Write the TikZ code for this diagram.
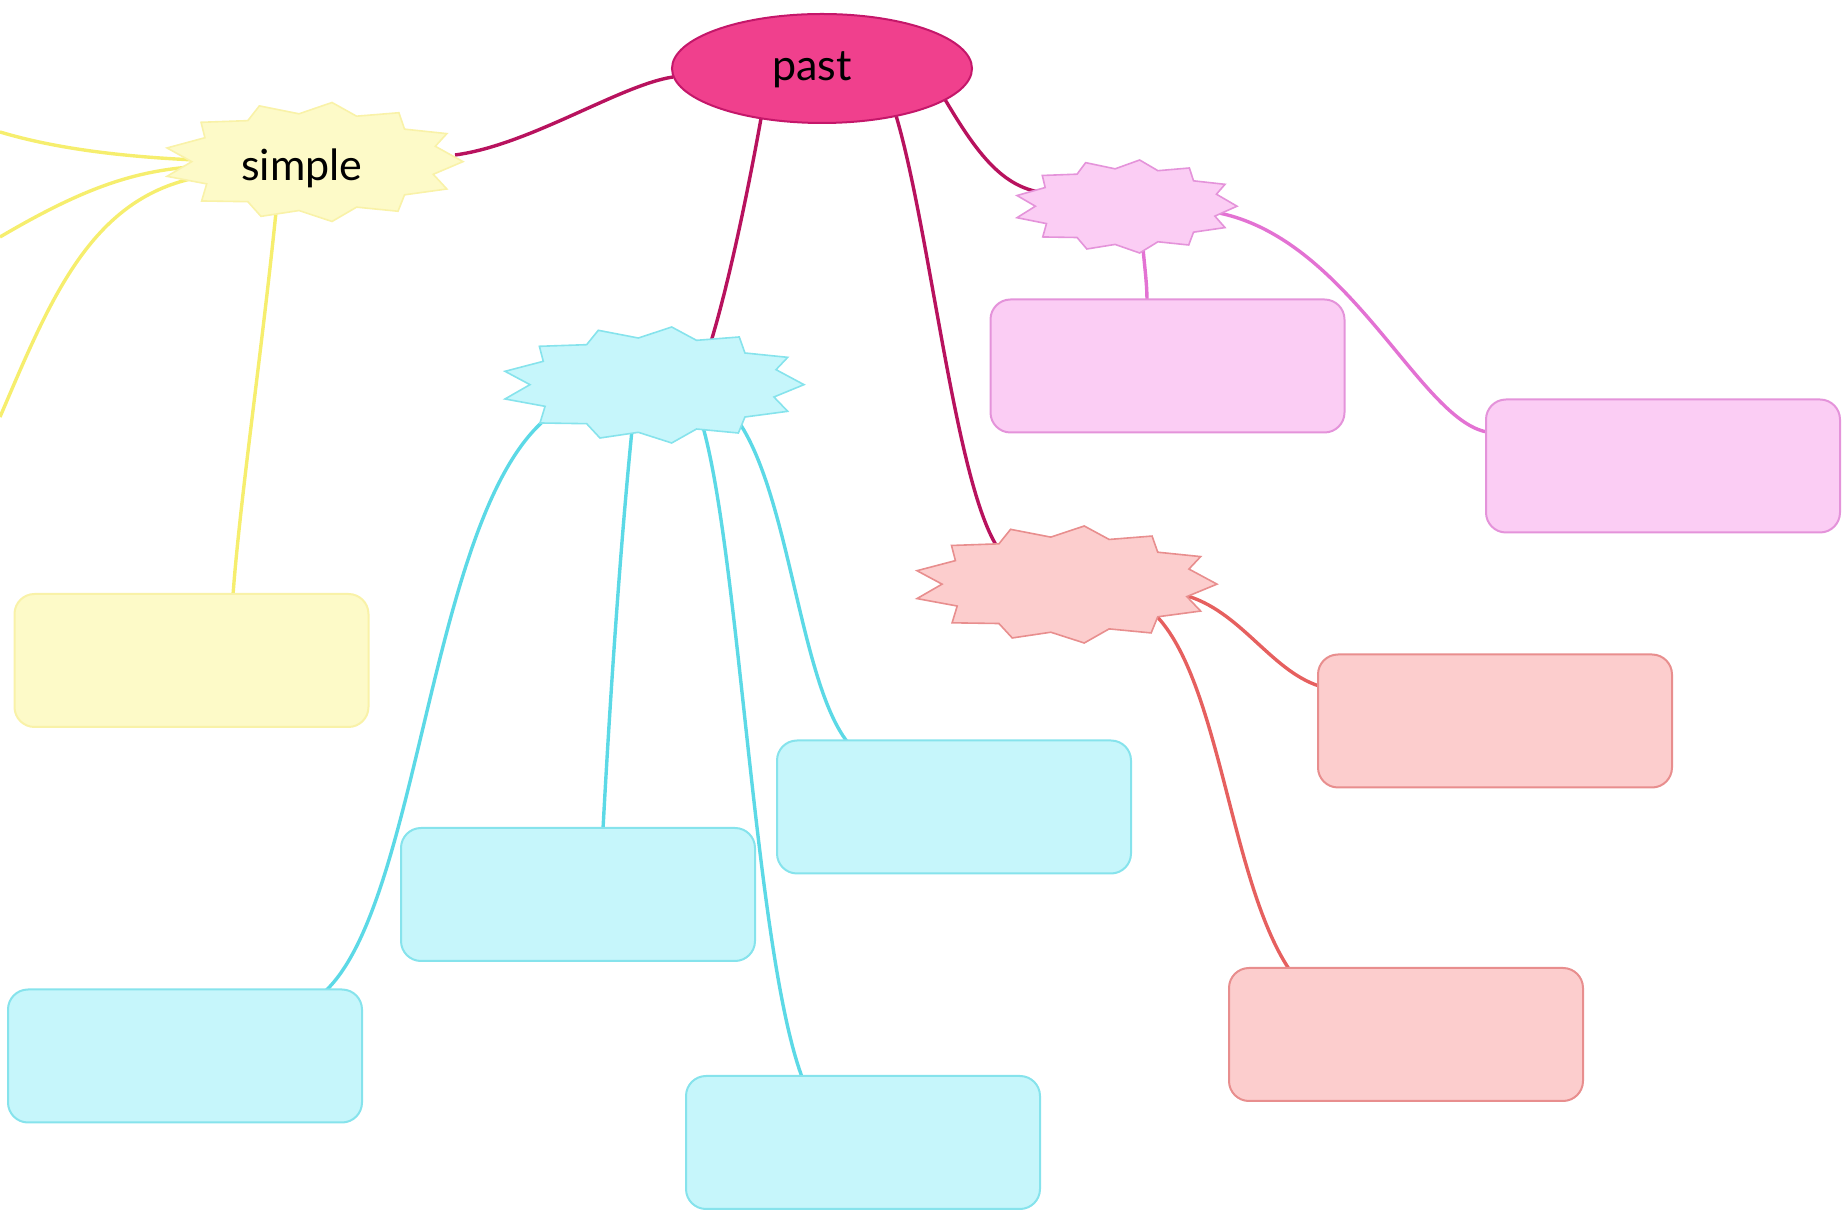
\documentclass[tikz,border=0pt]{standalone}
\usepackage{fontspec}
\setmainfont{Lato}
\usetikzlibrary{calc,shapes.geometric}
\pgfdeclarelayer{bg}
\pgfsetlayers{bg,main}
\definecolor{pastfill}{HTML}{F0408D}
\definecolor{pastdraw}{HTML}{C4176A}
\definecolor{pastline}{HTML}{B8125E}
\definecolor{yelfill}{HTML}{FDFAC8}
\definecolor{yeldraw}{HTML}{F9F2A8}
\definecolor{yelline}{HTML}{F6EE6E}
\definecolor{cyafill}{HTML}{C6F6FB}
\definecolor{cyadraw}{HTML}{86E3EC}
\definecolor{cyaline}{HTML}{5CD9E6}
\definecolor{pinfill}{HTML}{FBCDF4}
\definecolor{pindraw}{HTML}{E493DA}
\definecolor{pinline}{HTML}{E372D3}
\definecolor{salfill}{HTML}{FCCDCD}
\definecolor{saldraw}{HTML}{E88E8E}
\definecolor{salline}{HTML}{E6605F}
\newcommand\starpoly[4]{%
  \begin{scope}[shift={(#1)}, xscale=#2, yscale=#3]
  \filldraw[#4] (0.115,-1) -- (0.281,-0.770) -- (0.567,-0.828) -- (0.605,-0.552)
   -- (0.891,-0.477) -- (0.813,-0.264) -- (1.0,-0.006) -- (0.799,0.207)
   -- (0.891,0.454) -- (0.605,0.552) -- (0.561,0.828) -- (0.281,0.759)
   -- (0.115,1.0) -- (-0.108,0.816) -- (-0.365,0.914) -- (-0.454,0.667)
   -- (-0.766,0.655) -- (-0.732,0.368) -- (-1.0,0.241) -- (-0.833,-0.006)
   -- (-1.0,-0.236) -- (-0.744,-0.408) -- (-0.770,-0.667) -- (-0.454,-0.695)
   -- (-0.376,-0.943) -- (-0.108,-0.810) -- cycle;
  \end{scope}}
\tikzset{
  conn/.style={line width=1.7pt},
  box/.style={rectangle, rounded corners=10pt, minimum width=177pt, minimum height=66.5pt, line width=1pt, inner sep=0pt},
  starbox/.style={inner sep=0pt, draw=none},
  label/.style={font=\fontsize{21.5}{25}\selectfont, text=black, inner sep=0pt},
  starline/.style={line width=0.8pt, line join=miter}
}
\begin{document}
\begin{tikzpicture}[x=0.5pt, y=-0.5pt]
\useasboundingbox (0,0) rectangle (1844,1218);

% ---- nodes ----
\node[ellipse, draw=pastdraw, fill=pastfill, line width=1pt, minimum width=150pt, minimum height=54.5pt] (past) at (822,68.5) {};
\node[label] (pasttxt) at (812,70) {past};

\node[starbox, minimum width=148pt, minimum height=59.5pt] (simple) at (315,162) {};
\node[starbox, minimum width=149.5pt, minimum height=58pt] (cstar) at (654.5,385) {};
\node[starbox, minimum width=110pt, minimum height=46.5pt] (kstar) at (1127,206.5) {};
\node[starbox, minimum width=150pt, minimum height=58.5pt] (rstar) at (1067,584.5) {};

\node[box, draw=yeldraw, fill=yelfill] (yel) at (191.5,660.5) {};
\node[box, draw=cyadraw, fill=cyafill] (cy1) at (954,807) {};
\node[box, draw=cyadraw, fill=cyafill] (cy2) at (578,894.5) {};
\node[box, draw=cyadraw, fill=cyafill] (cy3) at (185,1056) {};
\node[box, draw=cyadraw, fill=cyafill] (cy4) at (863,1142.5) {};
\node[box, draw=pindraw, fill=pinfill] (pk1) at (1167.5,366) {};
\node[box, draw=pindraw, fill=pinfill] (pk2) at (1663,466) {};
\node[box, draw=saldraw, fill=salfill] (sa1) at (1495,721) {};
\node[box, draw=saldraw, fill=salfill] (sa2) at (1406,1034.5) {};

\coordinate (l1) at (0,132);
\coordinate (l2) at (0,237);
\coordinate (l3) at (0,417);

% ---- star shapes ----
\starpoly{simple}{148}{59.5}{starline, draw=yeldraw, fill=yelfill}
\starpoly{cstar}{149.5}{58}{starline, draw=cyadraw, fill=cyafill}
\starpoly{kstar}{110}{46.5}{starline, draw=pindraw, fill=pinfill}
\starpoly{rstar}{150}{58.5}{starline, draw=saldraw, fill=salfill}
\node[label] (simpletxt) at (302,168) {simple};

% ---- connectors ----
\begin{pgfonlayer}{bg}
\draw[conn, pastline] ($(past)+(-149,8.5)$) .. controls (620,85) and (530,145) .. ($(simple)+(140,-7)$);
\draw[conn, pastline] ($(past)+(-61,50)$) .. controls (750,180) and (730,280) .. ($(cstar)+(55.5,-40)$);
\draw[conn, pastline] ($(past)+(74,47)$) .. controls (930,230) and (955,480) .. ($(rstar)+(-70,-38)$);
\draw[conn, pastline] ($(past)+(123,31)$) .. controls (975,150) and (1000,185) .. ($(kstar)+(-88,-14.5)$);

\draw[conn, yelline] ($(simple)+(-39,50)$) .. controls (262,350) and (240,500) .. ($(yel.north)+(41.5,2)$);
\draw[conn, yelline] (l1) .. controls (60,150) and (130,157) .. ($(simple)+(-120,-2)$);
\draw[conn, yelline] (l2) .. controls (80,190) and (130,172) .. ($(simple)+(-125,5)$);
\draw[conn, yelline] (l3) .. controls (50,300) and (90,200) .. ($(simple)+(-120,16)$);

\draw[conn, cyaline] ($(cstar)+(-110,35)$) .. controls (430,520) and (420,900) .. ($(cy3.north)+(141,2)$);
\draw[conn, cyaline] ($(cstar)+(-22.5,45)$) .. controls (620,550) and (610,700) .. ($(cy2.north)+(25,2)$);
\draw[conn, cyaline] ($(cstar)+(48.5,42)$) .. controls (740,560) and (755,950) .. ($(cy4.north)+(-61,2)$);
\draw[conn, cyaline] ($(cstar)+(85,38)$) .. controls (790,500) and (800,680) .. ($(cy1.north)+(-107,2)$);

\draw[conn, pinline] ($(kstar)+(16,42)$) .. controls (1145,270) and (1147,285) .. ($(pk1.north)+(-20.5,2)$);
\draw[conn, pinline] ($(kstar)+(92,6.5)$) .. controls (1350,240) and (1420,420) .. ($(pk2.west)+(2,-34)$);

\draw[conn, salline] ($(rstar)+(117,10.5)$) .. controls (1240,610) and (1270,670) .. ($(sa1.west)+(2,-35)$);
\draw[conn, salline] ($(rstar)+(88,30)$) .. controls (1220,680) and (1230,880) .. ($(sa2.north)+(-117,2)$);
\end{pgfonlayer}
\end{tikzpicture}
\end{document}
